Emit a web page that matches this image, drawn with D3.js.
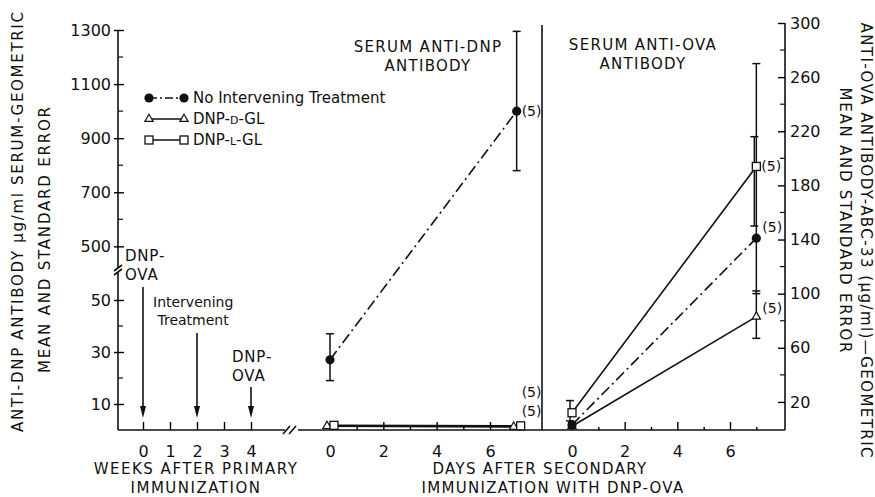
<!DOCTYPE html>
<meta charset="utf-8">
<title>Serum anti-DNP and anti-OVA antibody</title>
<script src="https://d3js.org/d3.v7.min.js"></script>
<style>
  body { margin: 0; background: #fff; }
  svg text { font-family: "DejaVu Sans", sans-serif; fill: #111; }
</style>
<body>
<div id="chart"></div>
<script>
// ---- data ----
var weekTicks = [0, 1, 2, 3, 4];
var dayTicks = [0, 1, 2, 3, 4, 5, 6, 7];
var dayLabels = [0, 2, 4, 6];
var sampleDays = [0, 7];

// left panel: anti-DNP antibody (ug/ml)
var dnpNone = [27, 1000], dnpNoneLo = [19, 780], dnpNoneHi = [37, 1295];
var dnpD = [1.5, 1.2];
var dnpL = [1.8, 1.6];

// right panel: anti-OVA antibody (ug/ml)
var ovaNone = [3, 141], ovaNoneLo = [1, 100], ovaNoneHi = [5, 270];
var ovaD = [2, 83], ovaDLo = [1, 67], ovaDHi = [3, 102];
var ovaL = [12, 194], ovaLLo = [6, 150], ovaLHi = [21, 216];

var leftMajor = [10, 30, 50, 500, 700, 900, 1100, 1300];
var leftMinor = [20, 40, 600, 800, 1000, 1200];
var rightMajor = [20, 60, 100, 140, 180, 220, 260, 300];
var rightMinor = [40, 80, 120, 160, 200, 240, 280];

var legendItems = ["No Intervening Treatment", "DNP-D-GL", "DNP-L-GL"];

// ---- layout ----
var W = 875, H = 497;
var base = 430;
var svg = d3.select("#chart").append("svg").attr("width", W).attr("height", H);

// broken left axis: 0-60 below the break, 420-1300 above it
var yL = d3.scaleLinear().domain([0, 60, 420, 1300]).range([base, 274, 268, 30]);
var yR = d3.scaleLinear().domain([0, 300]).range([base - 1, 23]);
var xW = d3.scaleLinear().domain([0, 4]).range([143, 251]);
var xD1 = d3.scaleLinear().domain([0, 6]).range([330, 490]);
var xD2 = d3.scaleLinear().domain([0, 6]).range([572, 730]);

var leftX = 118, rightX = 785, divX = 542;
var ink = "#111";

// axis lines
var g = svg.append("g").attr("stroke", ink).attr("stroke-width", 1.6).attr("fill", "none");
g.append("line").attr("x1", leftX).attr("x2", leftX).attr("y1", base).attr("y2", yL(60) - 2);
g.append("line").attr("x1", leftX).attr("x2", leftX).attr("y1", yL(420)).attr("y2", yL(1300));
g.append("path").attr("d", "M" + (leftX - 4) + "," + (yL(60) + 1) + " l8,-6");
g.append("path").attr("d", "M" + (leftX - 4) + "," + (yL(420) + 3) + " l8,-6");
g.append("line").attr("x1", leftX).attr("x2", 285).attr("y1", base).attr("y2", base);
g.append("line").attr("x1", 298).attr("x2", rightX).attr("y1", base).attr("y2", base);
g.append("path").attr("d", "M283," + (base + 4) + " l7,-8 M289," + (base + 4) + " l7,-8");
g.append("line").attr("x1", rightX).attr("x2", rightX).attr("y1", base).attr("y2", yR(300));
g.append("line").attr("x1", divX).attr("x2", divX).attr("y1", base).attr("y2", 25);

// left y axis ticks
var axL = svg.append("g").attr("transform", "translate(" + leftX + ",0)")
  .call(d3.axisLeft(yL).tickValues(leftMajor).tickSize(-6).tickPadding(7).tickFormat(d3.format("d")));
axL.select(".domain").remove();
axL.selectAll("text").style("font-size", "16px");
axL.selectAll("line").attr("x1", -4).attr("stroke-width", 1.4);
svg.append("g").selectAll("line").data(leftMinor).enter().append("line")
  .attr("x1", leftX).attr("x2", leftX + 5).attr("y1", yL).attr("y2", yL)
  .attr("stroke", ink).attr("stroke-width", 1.2);

// right y axis ticks
var axR = svg.append("g").attr("transform", "translate(" + rightX + ",0)")
  .call(d3.axisRight(yR).tickValues(rightMajor).tickSize(-7).tickPadding(5));
axR.select(".domain").remove();
axR.selectAll("text").style("font-size", "16px");
axR.selectAll("line").attr("stroke-width", 1.4);
svg.append("g").selectAll("line").data(rightMinor).enter().append("line")
  .attr("x1", rightX).attr("x2", rightX - 5).attr("y1", yR).attr("y2", yR)
  .attr("stroke", ink).attr("stroke-width", 1.2);

// x axes (ticks point up into the plot)
function xAxis(scale, values, labels) {
  var a = svg.append("g").attr("transform", "translate(0," + base + ")")
    .call(d3.axisBottom(scale).tickValues(values).tickSize(-8).tickPadding(16)
      .tickFormat(function (d) { return labels.indexOf(d) >= 0 ? d : ""; }));
  a.select(".domain").remove();
  a.selectAll("text").style("font-size", "16px");
  a.selectAll("line").attr("stroke-width", 1.4)
    .attr("y2", function (d) { return labels.indexOf(d) >= 0 ? -8 : -3; });
  return a;
}
xAxis(xW, weekTicks, weekTicks);
xAxis(xD1, dayTicks, dayLabels);
xAxis(xD2, dayTicks, dayLabels);

// markers
function circle(sel) { sel.attr("r", 4.6).attr("fill", ink); }
var triPath = d3.symbol().type(d3.symbolTriangle).size(30);
var sqSize = 8;

function drawLine(x, y, vals, dash, dx) {
  svg.append("path")
    .datum(sampleDays)
    .attr("fill", "none").attr("stroke", ink).attr("stroke-width", 1.6)
    .attr("stroke-dasharray", dash || null)
    .attr("d", d3.line().x(function (d) { return x(d) + (dx || 0); })
      .y(function (d, i) { return y(vals[i]); }));
}
function errBars(x, y, lo, hi, dx) {
  var e = svg.append("g").attr("stroke", ink).attr("stroke-width", 1.5);
  sampleDays.forEach(function (d, i) {
    var cx = x(d) + (dx || 0);
    e.append("line").attr("x1", cx).attr("x2", cx).attr("y1", y(lo[i])).attr("y2", y(hi[i]));
    e.append("line").attr("x1", cx - 4).attr("x2", cx + 4).attr("y1", y(lo[i])).attr("y2", y(lo[i]));
    e.append("line").attr("x1", cx - 4).attr("x2", cx + 4).attr("y1", y(hi[i])).attr("y2", y(hi[i]));
  });
}
function points(kind, x, y, vals, dx) {
  var p = svg.append("g");
  sampleDays.forEach(function (d, i) {
    var cx = x(d) + (dx || 0), cy = y(vals[i]);
    if (kind === "circle") {
      p.append("circle").attr("cx", cx).attr("cy", cy).call(circle);
    } else if (kind === "tri") {
      p.append("path").attr("d", triPath).attr("transform", "translate(" + cx + "," + cy + ")")
        .attr("fill", "#fff").attr("stroke", ink).attr("stroke-width", 1.2);
    } else {
      p.append("rect").attr("x", cx - sqSize / 2).attr("y", cy - sqSize / 2)
        .attr("width", sqSize).attr("height", sqSize)
        .attr("fill", "#fff").attr("stroke", ink).attr("stroke-width", 1.3);
    }
  });
}
var dashDot = "11,4,2,4";

// left panel
errBars(xD1, yL, dnpNoneLo, dnpNoneHi);
drawLine(xD1, yL, dnpD, null, -3);
drawLine(xD1, yL, dnpL, null, 4);
drawLine(xD1, yL, dnpNone, dashDot);
points("tri", xD1, yL, dnpD, -3);
points("sq", xD1, yL, dnpL, 4);
points("circle", xD1, yL, dnpNone);

// right panel
errBars(xD2, yR, ovaNoneLo, ovaNoneHi);
errBars(xD2, yR, ovaLLo, ovaLHi, -2);
errBars(xD2, yR, ovaDLo, ovaDHi);
drawLine(xD2, yR, ovaL);
drawLine(xD2, yR, ovaD);
drawLine(xD2, yR, ovaNone, dashDot);
points("sq", xD2, yR, ovaL);
points("tri", xD2, yR, ovaD);
points("circle", xD2, yR, ovaNone);

// (5) group sizes
var nLab = svg.append("g").style("font-size", "14px");
nLab.append("text").attr("x", xD1(7) + 5).attr("y", yL(dnpNone[1]) + 5).text("(5)");
nLab.append("text").attr("x", xD1(7) + 5).attr("y", 397).text("(5)");
nLab.append("text").attr("x", xD1(7) + 5).attr("y", 416).text("(5)");
nLab.append("text").attr("x", xD2(7) + 5).attr("y", yR(ovaL[1]) + 5).text("(5)");
nLab.append("text").attr("x", xD2(7) + 6).attr("y", yR(ovaNone[1]) - 6).text("(5)");
nLab.append("text").attr("x", xD2(7) + 6).attr("y", yR(ovaD[1]) - 4).text("(5)");

// legend
var lg = svg.append("g");
legendItems.forEach(function (name, i) {
  var ly = 98 + i * 21;
  lg.append("line").attr("x1", 149).attr("x2", 184).attr("y1", ly).attr("y2", ly)
    .attr("stroke", ink).attr("stroke-width", 1.6).attr("stroke-dasharray", i === 0 ? "8,3,2,3" : null);
  [149, 184].forEach(function (cx) {
    if (i === 0) lg.append("circle").attr("cx", cx).attr("cy", ly).call(circle);
    else if (i === 1) lg.append("path").attr("d", triPath).attr("transform", "translate(" + cx + "," + ly + ")")
      .attr("fill", "#fff").attr("stroke", ink).attr("stroke-width", 1.2);
    else lg.append("rect").attr("x", cx - 4).attr("y", ly - 4).attr("width", 8).attr("height", 8)
      .attr("fill", "#fff").attr("stroke", ink).attr("stroke-width", 1.3);
  });
  var t = lg.append("text").attr("x", 193).attr("y", ly + 5).style("font-size", "15px");
  if (i === 0) t.text(name);
  else {
    var parts = name.split("-");
    t.append("tspan").text(parts[0] + "-");
    t.append("tspan").style("font-size", "11px").text(parts[1]);
    t.append("tspan").text("-" + parts[2]);
  }
});

// annotations
function label(x, y, lines, size, anchor, spacing) {
  var t = svg.append("text").attr("x", x).attr("y", y).style("font-size", size + "px")
    .style("letter-spacing", (spacing || 0) + "px")
    .attr("text-anchor", anchor || "middle");
  lines.forEach(function (s, i) {
    t.append("tspan").attr("x", x).attr("dy", i ? size * 1.25 : 0).text(s);
  });
}
label(428, 52, ["SERUM ANTI-DNP", "ANTIBODY"], 15, "middle", 1.3);
label(643, 50, ["SERUM ANTI-OVA", "ANTIBODY"], 15, "middle", 1.3);
label(125, 261, ["DNP-", "OVA"], 15, "start", 0.8);
label(153, 307, ["Intervening", " Treatment"], 14, "start");
label(232, 362, ["DNP-", "OVA"], 15, "start", 0.8);
label(196, 474, ["WEEKS AFTER PRIMARY", "IMMUNIZATION"], 15, "middle", 1.5);
label(540, 474, ["DAYS AFTER SECONDARY"], 15, "middle", 1.3);
label(553, 493, ["IMMUNIZATION WITH DNP-OVA"], 15, "middle", 1.3);

// treatment arrows
var arrows = [{ w: 0, top: 287 }, { w: 2, top: 333 }, { w: 4, top: 387 }];
var ar = svg.append("g");
arrows.forEach(function (a) {
  var ax = xW(a.w);
  ar.append("line").attr("x1", ax).attr("x2", ax).attr("y1", a.top).attr("y2", 410)
    .attr("stroke", ink).attr("stroke-width", 1.6);
  ar.append("path").attr("d", "M" + (ax - 3) + ",406 L" + (ax + 3) + ",406 L" + ax + ",418 Z").attr("fill", ink);
});

// axis titles
var yt = svg.append("g").style("font-size", "15px");
yt.append("text").attr("transform", "translate(23,222) rotate(-90)").attr("text-anchor", "middle")
  .attr("textLength", 420).attr("lengthAdjust", "spacing")
  .text("ANTI-DNP ANTIBODY \u00b5g/ml SERUM-GEOMETRIC");
yt.append("text").attr("transform", "translate(50,240) rotate(-90)").attr("text-anchor", "middle")
  .attr("textLength", 266).attr("lengthAdjust", "spacing")
  .text("MEAN AND STANDARD ERROR");
yt.append("text").attr("transform", "translate(861,240) rotate(90)").attr("text-anchor", "middle")
  .attr("textLength", 435).attr("lengthAdjust", "spacing")
  .text("ANTI-OVA ANTIBODY-ABC-33 (\u00b5g/ml)\u2014GEOMETRIC");
yt.append("text").attr("transform", "translate(840,220) rotate(90)").attr("text-anchor", "middle")
  .attr("textLength", 265).attr("lengthAdjust", "spacing")
  .text("MEAN AND STANDARD ERROR");
</script>
</body>
